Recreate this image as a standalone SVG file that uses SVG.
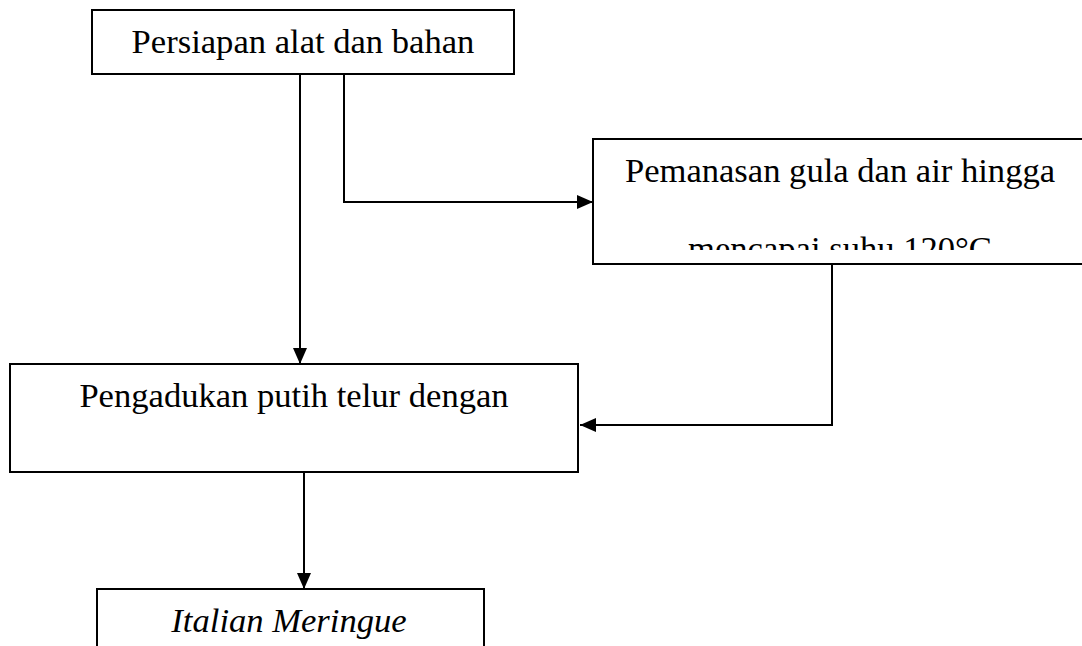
<svg xmlns="http://www.w3.org/2000/svg" width="1082" height="646" viewBox="0 0 1082 646">
<style>
.box{fill:#fff;stroke:#000;stroke-width:2}
.t{font-family:"Liberation Serif","Times New Roman",serif;font-size:34.6px;fill:#000;text-anchor:middle}
.c{fill:none;stroke:#000;stroke-width:2}
</style>
<defs>
<marker id="ah" markerWidth="16" markerHeight="14" refX="16" refY="7" orient="auto" markerUnits="userSpaceOnUse">
<path d="M0,0 L16,7 L0,14 Z" fill="#000"/>
</marker>
<clipPath id="clip2"><rect x="594" y="140" width="500" height="110"/></clipPath>
</defs>
<rect width="1082" height="646" fill="#fff"/>
<g id="n1">
<rect class="box" x="92" y="10" width="422" height="64"/>
<text class="t" x="303" y="53">Persiapan alat dan bahan</text>
</g>
<g id="n2">
<rect class="box" x="593" y="139" width="500" height="125"/>
<g clip-path="url(#clip2)">
<text class="t" x="840" y="182">Pemanasan gula dan air hingga</text>
<text class="t" x="840" y="260">mencapai suhu 120°C</text>
</g>
</g>
<g id="n3">
<rect class="box" x="10" y="364" width="568" height="108"/>
<text class="t" x="294" y="407">Pengadukan putih telur dengan</text>
</g>
<g id="n4">
<rect class="box" x="97" y="589" width="387" height="80"/>
<text class="t" x="289" y="632" font-style="italic">Italian Meringue</text>
</g>
<g id="connectors">
<path class="c" d="M300,74 V364" marker-end="url(#ah)"/>
<path class="c" d="M344,74 V202 H593" marker-end="url(#ah)"/>
<path class="c" d="M832,264 V425 H580" marker-end="url(#ah)"/>
<path class="c" d="M304,472 V589" marker-end="url(#ah)"/>
</g>
</svg>
